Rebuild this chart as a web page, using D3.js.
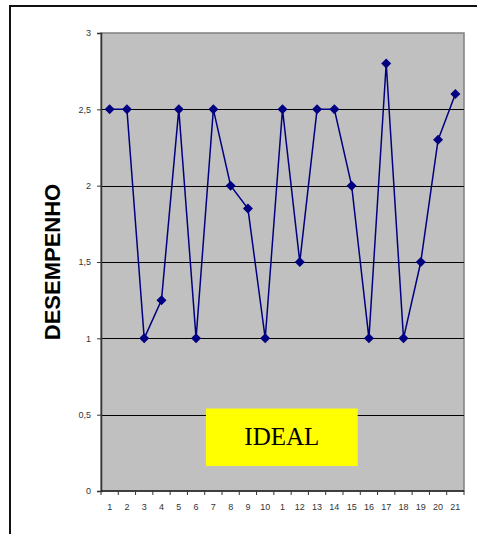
<!DOCTYPE html>
<html>
<head>
<meta charset="utf-8">
<script src="https://cdn.jsdelivr.net/npm/d3@7"></script>
<style>
  html, body { margin: 0; padding: 0; background: #fff; }
  svg { display: block; }
</style>
</head>
<body>
<svg id="chart" width="477" height="534"></svg>
<script>
// Category labels along the x axis (the 11th reads "1" in the source sheet)
const categories = ["1","2","3","4","5","6","7","8","9","10","1","12","13","14","15","16","17","18","19","20","21"];
// Performance score per category
const desempenho = [2.5, 2.5, 1, 1.25, 2.5, 1, 2.5, 2, 1.85, 1, 2.5, 1.5, 2.5, 2.5, 2, 1, 2.8, 1, 1.5, 2.3, 2.6];
// Y axis ticks and their labels (comma decimals)
const yTicks = [0, 0.5, 1, 1.5, 2, 2.5, 3];
const yTickLabels = ["0", "0,5", "1", "1,5", "2", "2,5", "3"];
const yTitle = "DESEMPENHO";
const idealText = "IDEAL";
// Extent of the "IDEAL" highlight, in category index / value units
const idealBand = { fromIndex: 6.07, toIndex: 14.85, low: 0.164, high: 0.54 };

const svg = d3.select("#chart");
const plot = { left: 101, top: 33, right: 464, bottom: 491 };

// Outer frame (only left and top edges fall inside the window)
svg.append("path")
  .attr("d", "M10,534 V6 H477")
  .attr("fill", "none").attr("stroke", "#111").attr("stroke-width", 2);

const x = d3.scaleBand().domain(d3.range(categories.length))
  .range([plot.left, plot.right]).paddingInner(0).paddingOuter(0);
const y = d3.scaleLinear().domain([0, 3]).range([plot.bottom, plot.top]);

// Plot background
svg.append("rect")
  .attr("x", plot.left).attr("y", plot.top)
  .attr("width", plot.right - plot.left).attr("height", plot.bottom - plot.top)
  .attr("fill", "#c0c0c0").attr("stroke", "#808080").attr("stroke-width", 1.5);

// Horizontal gridlines
svg.append("g").selectAll("line")
  .data(yTicks.filter(v => v > 0 && v < 3))
  .join("line")
  .attr("x1", plot.left).attr("x2", plot.right)
  .attr("y1", d => Math.round(y(d)) + 0.5).attr("y2", d => Math.round(y(d)) + 0.5)
  .attr("stroke", "#000").attr("stroke-width", 1);

// IDEAL highlight box
const ix0 = x(0) + x.bandwidth() * idealBand.fromIndex;
const ix1 = x(0) + x.bandwidth() * idealBand.toIndex;
svg.append("rect")
  .attr("x", ix0).attr("y", y(idealBand.high))
  .attr("width", ix1 - ix0).attr("height", y(idealBand.low) - y(idealBand.high))
  .attr("fill", "#ffff00");
svg.append("text")
  .attr("x", (ix0 + ix1) / 2).attr("y", y((idealBand.low + idealBand.high) / 2) + 8)
  .attr("text-anchor", "middle")
  .attr("font-family", "'Liberation Serif', 'Times New Roman', serif")
  .attr("font-size", 25).attr("fill", "#000")
  .text(idealText);

// Y axis
const yAxis = d3.axisLeft(y).tickValues(yTicks)
  .tickFormat((d, i) => yTickLabels[i]).tickSize(4).tickPadding(6);
const gy = svg.append("g").attr("transform", `translate(${plot.left},0)`).call(yAxis);
gy.select(".domain").attr("stroke", "#333").attr("stroke-width", 1.5);
gy.selectAll(".tick line").attr("stroke", "#333");
gy.selectAll("text").attr("font-family", "Arial, 'Liberation Sans', sans-serif")
  .attr("font-size", 9).attr("fill", "#333");

// X axis: ticks at category boundaries, labels centred in each band
const xb = d3.scaleLinear().domain([0, categories.length]).range([plot.left, plot.right]);
const gx = svg.append("g").attr("transform", `translate(0,${plot.bottom})`);
gx.append("line").attr("x1", plot.left).attr("x2", plot.right)
  .attr("stroke", "#222").attr("stroke-width", 1.5);
gx.selectAll("line.tk").data(d3.range(categories.length + 1)).join("line")
  .attr("class", "tk")
  .attr("x1", d => xb(d)).attr("x2", d => xb(d)).attr("y1", 0).attr("y2", 4)
  .attr("stroke", "#333");
gx.selectAll("text").data(categories).join("text")
  .attr("x", (d, i) => x(i) + x.bandwidth() / 2).attr("y", 19)
  .attr("text-anchor", "middle")
  .attr("font-family", "Arial, 'Liberation Sans', sans-serif")
  .attr("font-size", 9).attr("fill", "#333")
  .text(d => d);

// Y axis title
svg.append("text")
  .attr("transform", `translate(60,${(plot.top + plot.bottom) / 2}) rotate(-90)`)
  .attr("text-anchor", "middle")
  .attr("font-family", "Arial, 'Liberation Sans', sans-serif")
  .attr("font-weight", "bold").attr("font-size", 22).attr("fill", "#000")
  .text(yTitle);

// Series line and diamond markers
const cx = i => x(i) + x.bandwidth() / 2;
svg.append("path")
  .datum(desempenho)
  .attr("d", d3.line().x((d, i) => cx(i)).y(d => y(d)))
  .attr("fill", "none").attr("stroke", "#000080").attr("stroke-width", 1.5);

svg.append("g").selectAll("path").data(desempenho).join("path")
  .attr("transform", (d, i) => `translate(${cx(i)},${y(d)})`)
  .attr("d", "M0,-5 L5,0 L0,5 L-5,0 Z")
  .attr("fill", "#000080");
</script>
</body>
</html>
